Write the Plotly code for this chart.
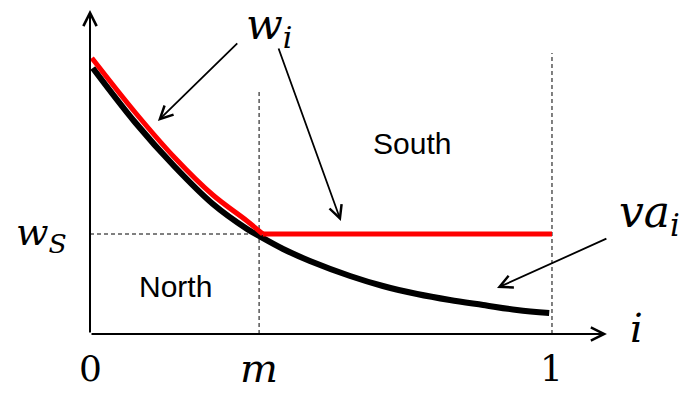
import plotly.graph_objects as go

# Position along the unit interval (i) and the value-added schedule va_i
i_va = [0.006, 0.097, 0.184, 0.266, 0.340, 0.366, 0.418, 0.476, 0.563,
        0.634, 0.708, 0.779, 0.851, 0.924, 0.994]
va = [2.66, 2.12, 1.67, 1.30, 1.05, 0.98, 0.85, 0.73, 0.58,
      0.48, 0.40, 0.34, 0.29, 0.24, 0.21]

# Wage schedule w_i: a falling segment up to the kink, then flat at w_S
i_w = [0.004, 0.097, 0.184, 0.266, 0.340, 0.374, 1.0]
w = [2.76, 2.22, 1.76, 1.39, 1.13, 1.00, 1.00]
kink = 5           # index of the kink in i_w / w

m = 0.366          # boundary between North and South
w_S = 1.0          # southern wage level
m_top = 2.45       # top of the dashed guide at m
one_top = 2.81     # top of the dashed guide at i = 1
x_tip = 1.119      # end of the horizontal axis arrow
y_tip = 3.24       # end of the vertical axis arrow

tick_labels = ["0", "<i>m</i>", "1"]
tick_pos = [0.0, m, 1.0]
tick_sizes = [36, 40, 36]

fig = go.Figure()

fig.add_trace(go.Scatter(x=i_va, y=va, mode="lines",
                         line=dict(color="black", width=6, shape="spline", smoothing=1.0),
                         hoverinfo="skip"))
fig.add_trace(go.Scatter(x=i_w[:kink + 1], y=w[:kink + 1], mode="lines",
                         line=dict(color="#ff0000", width=5, shape="spline", smoothing=1.0),
                         hoverinfo="skip"))
fig.add_trace(go.Scatter(x=i_w[kink:], y=w[kink:], mode="lines",
                         line=dict(color="#ff0000", width=5),
                         hoverinfo="skip"))

dash = dict(color="black", width=1, dash="4px,3px")
fig.add_shape(type="line", x0=m, x1=m, y0=0, y1=m_top, line=dash, layer="below")
fig.add_shape(type="line", x0=1.0, x1=1.0, y0=0, y1=one_top, line=dash, layer="below")
fig.add_shape(type="line", x0=0, x1=m, y0=w_S, y1=w_S, line=dash, layer="below")

annotations = []

# Axes drawn as arrows
for (hx, hy) in [(x_tip, 0.0), (0.0, y_tip)]:
    annotations.append(dict(x=hx, y=hy, ax=0.0, ay=0.0, xref="x", yref="y",
                            axref="x", ayref="y", showarrow=True, arrowhead=5,
                            arrowsize=1.3, arrowwidth=2, arrowcolor="black",
                            text="", standoff=0, startstandoff=0))

# Pointer arrows from the labels to the curves
pointers = [((0.322, 2.92), (0.147, 2.13)),
            ((0.407, 2.87), (0.543, 1.13)),
            ((1.121, 0.96), (0.881, 0.46))]
for (tx, ty), (hx, hy) in pointers:
    annotations.append(dict(x=hx, y=hy, ax=tx, ay=ty, xref="x", yref="y",
                            axref="x", ayref="y", showarrow=True, arrowhead=5,
                            arrowsize=1.4, arrowwidth=1.8, arrowcolor="black",
                            text="", standoff=0, startstandoff=0))

serif = "DejaVu Serif"
sans = "Liberation Sans"

# Math labels
math_labels = [
    ("<i>w</i><sub><i>i</i></sub>", 0.388, 3.07, 43),
    ("<i>va</i><sub><i>i</i></sub>", 1.212, 1.20, 44),
    ("<i>w</i><sub><i>S</i></sub>", -0.106, 1.00, 38),
    ("<i>i</i>", 1.183, 0.06, 40),
]
for txt, x, y, size in math_labels:
    annotations.append(dict(x=x, y=y, xref="x", yref="y", text=txt, showarrow=False,
                            font=dict(family=serif, size=size, color="black"),
                            xanchor="center", yanchor="middle"))

for txt, x, size in zip(tick_labels, tick_pos, tick_sizes):
    annotations.append(dict(x=x, y=-0.34, xref="x", yref="y", text=txt, showarrow=False,
                            font=dict(family=serif, size=size, color="black"),
                            xanchor="center", yanchor="middle"))

for txt, x, y in [("South", 0.697, 1.91), ("North", 0.184, 0.48)]:
    annotations.append(dict(x=x, y=y, xref="x", yref="y", text=txt, showarrow=False,
                            font=dict(family=sans, size=30, color="black"),
                            xanchor="center", yanchor="middle"))

fig.update_layout(
    width=691, height=393,
    margin=dict(l=0, r=0, t=0, b=0),
    paper_bgcolor="white", plot_bgcolor="white",
    showlegend=False,
    xaxis=dict(range=[-0.1948, 1.3009], visible=False, fixedrange=True),
    yaxis=dict(range=[-0.59, 3.34], visible=False, fixedrange=True),
    annotations=annotations,
)

fig.write_html("out.html")
